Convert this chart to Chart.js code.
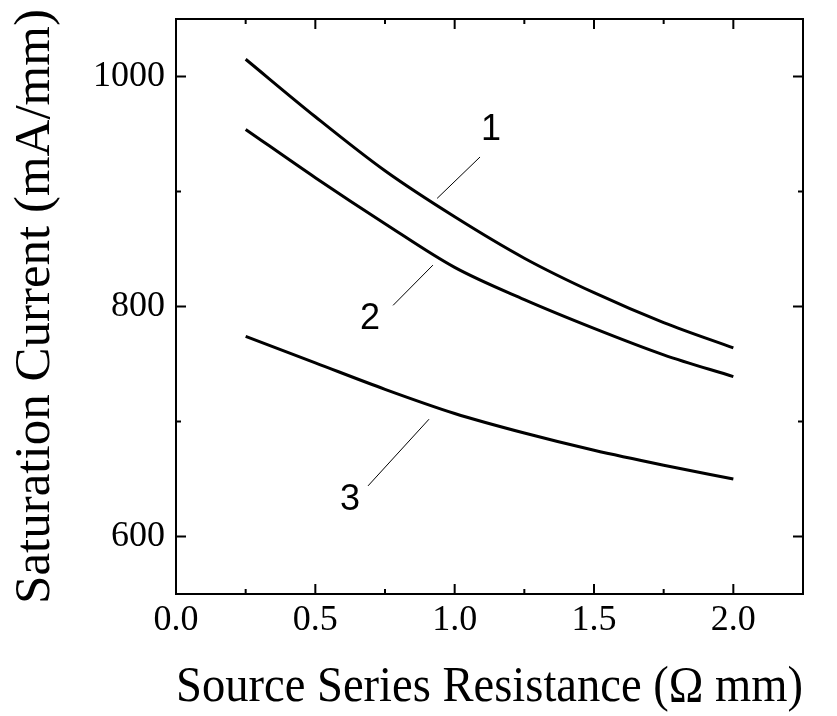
<!DOCTYPE html>
<html lang="en">
<head>
    <meta charset="UTF-8">
    <title>Saturation Current vs Source Series Resistance</title>
    <script src="https://cdn.jsdelivr.net/npm/chart.js@4.4.1/dist/chart.umd.min.js"></script>
    <style>
        html, body { margin: 0; padding: 0; background: #fff; }
    </style>
</head>
<body>
    <canvas id="chart" width="837" height="716"></canvas>
    <script>
        // Data
        const resistance = [0.25, 0.5, 0.75, 1.0, 1.25, 1.5, 1.75, 2.0];
        const curve1 = [1015, 965, 918, 878, 842, 812, 786, 764];
        const curve2 = [954, 912, 872, 834, 806, 781, 758, 739];
        const curve3 = [774, 751, 728, 707, 690, 675, 662, 650];

        const xMajorTicks = [0.0, 0.5, 1.0, 1.5, 2.0];
        const xMinorTicks = [0.25, 0.75, 1.25, 1.75];
        const yMajorTicks = [600, 800, 1000];
        const yMinorTicks = [700, 900];

        // curve numbers and their leader lines, in data units
        const curveNames = ['1', '2', '3'];
        const nameX = [1.13, 0.696, 0.624];
        const nameY = [953, 789, 632];
        const leaderFrom = [[0.937, 894], [0.779, 801], [0.689, 644]];
        const leaderTo = [[1.091, 930], [0.922, 836], [0.908, 702]];

        const serif = "'Liberation Serif', 'Times New Roman', serif";
        const sans = "'Liberation Sans', Arial, sans-serif";

        function toPoints(ys) {
            return resistance.map((x, i) => ({ x: x, y: ys[i] }));
        }

        // frame with inward ticks on all four sides + curve labels
        const framePlugin = {
            id: 'frame',
            afterDatasetsDraw(chart) {
                const ctx = chart.ctx;
                const a = chart.chartArea;
                const xs = chart.scales.x, ys = chart.scales.y;
                ctx.save();
                ctx.strokeStyle = '#000';
                ctx.lineWidth = 2;
                ctx.strokeRect(a.left, a.top, a.right - a.left, a.bottom - a.top);

                ctx.beginPath();
                const xt = (v, len) => {
                    const px = xs.getPixelForValue(v);
                    ctx.moveTo(px, a.bottom); ctx.lineTo(px, a.bottom - len);
                    ctx.moveTo(px, a.top); ctx.lineTo(px, a.top + len);
                };
                const yt = (v, len) => {
                    const py = ys.getPixelForValue(v);
                    ctx.moveTo(a.left, py); ctx.lineTo(a.left + len, py);
                    ctx.moveTo(a.right, py); ctx.lineTo(a.right - len, py);
                };
                xMajorTicks.forEach(v => xt(v, 10));
                xMinorTicks.forEach(v => xt(v, 5));
                yMajorTicks.forEach(v => yt(v, 10));
                yMinorTicks.forEach(v => yt(v, 5));
                ctx.stroke();

                // leader lines
                ctx.lineWidth = 1;
                ctx.beginPath();
                for (let i = 0; i < curveNames.length; i++) {
                    ctx.moveTo(xs.getPixelForValue(leaderFrom[i][0]), ys.getPixelForValue(leaderFrom[i][1]));
                    ctx.lineTo(xs.getPixelForValue(leaderTo[i][0]), ys.getPixelForValue(leaderTo[i][1]));
                }
                ctx.stroke();

                ctx.fillStyle = '#000';
                ctx.font = '36px ' + sans;
                ctx.textAlign = 'center';
                ctx.textBaseline = 'middle';
                for (let i = 0; i < curveNames.length; i++) {
                    ctx.fillText(curveNames[i], xs.getPixelForValue(nameX[i]), ys.getPixelForValue(nameY[i]));
                }
                ctx.restore();
            }
        };

        const lineStyle = {
            borderColor: '#000',
            borderWidth: 3,
            pointRadius: 0,
            fill: false,
            cubicInterpolationMode: 'monotone'
        };

        new Chart(document.getElementById('chart'), {
            type: 'line',
            data: {
                datasets: [
                    Object.assign({ label: '1', data: toPoints(curve1) }, lineStyle),
                    Object.assign({ label: '2', data: toPoints(curve2) }, lineStyle),
                    Object.assign({ label: '3', data: toPoints(curve3) }, lineStyle)
                ]
            },
            options: {
                responsive: false,
                animation: false,
                devicePixelRatio: 1,
                layout: { padding: { top: 19, right: 34, left: 0, bottom: 0 } },
                plugins: { legend: { display: false }, tooltip: { enabled: false } },
                scales: {
                    x: {
                        type: 'linear',
                        min: 0,
                        max: 2.25,
                        afterBuildTicks: s => { s.ticks = xMajorTicks.map(v => ({ value: v })); },
                        afterFit: s => { s.height = 122; s.paddingLeft = 0; s.paddingRight = 0; },
                        grid: { display: false, drawTicks: false },
                        border: { display: false },
                        ticks: {
                            color: '#000',
                            padding: 5,
                            maxRotation: 0,
                            autoSkip: false,
                            font: { family: serif, size: 36 },
                            callback: v => Number(v).toFixed(1)
                        },
                        title: {
                            display: true,
                            text: 'Source Series Resistance (Ω mm)',
                            color: '#000',
                            font: { family: serif, size: 51 },
                            padding: { top: 0, bottom: -2 }
                        }
                    },
                    y: {
                        min: 550,
                        max: 1050,
                        afterBuildTicks: s => { s.ticks = yMajorTicks.map(v => ({ value: v })); },
                        afterFit: s => { s.width = 176; s.paddingTop = 0; s.paddingBottom = 0; },
                        grid: { display: false, drawTicks: false },
                        border: { display: false },
                        ticks: {
                            color: '#000',
                            padding: 11,
                            autoSkip: false,
                            font: { family: serif, size: 36 },
                            callback: v => String(v)
                        },
                        title: {
                            display: true,
                            text: 'Saturation Current (mA/mm)',
                            color: '#000',
                            font: { family: serif, size: 51 },
                            padding: { top: 5, bottom: 0 }
                        }
                    }
                }
            },
            plugins: [framePlugin]
        });
    </script>
</body>
</html>
